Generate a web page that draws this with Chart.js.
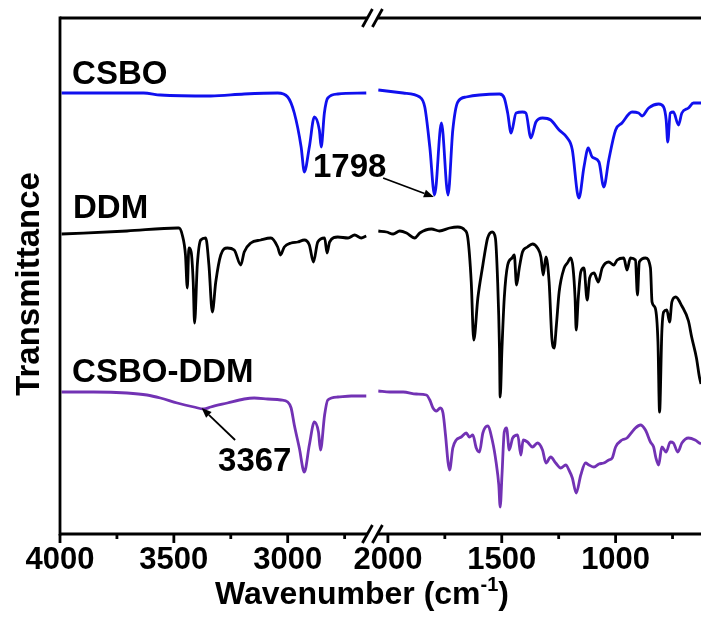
<!DOCTYPE html>
<html>
<head>
<meta charset="utf-8">
<script src="https://cdn.jsdelivr.net/npm/chart.js@4.4.0/dist/chart.umd.min.js"></script>
<style>
  html, body { margin: 0; padding: 0; background: #fff; }
  #wrap { width: 701px; height: 626px; }
</style>
</head>
<body>
<div id="wrap"><canvas id="ftir" width="701" height="626"></canvas></div>
<script>
// FTIR spectra, wavenumber (cm-1) vs. stacked transmittance (a.u.)

const csboWn = [3993, 3633, 3559, 3338, 3191, 3044, 3000, 2971, 2941, 2927, 2905, 2883, 2861, 2853, 2839, 2824, 2780, 2655,
    2042, 1933, 1860, 1838, 1816, 1795, 1765, 1736, 1715, 1693, 1656, 1598, 1510, 1489, 1474, 1459, 1437, 1409, 1394, 1372,
    1350, 1321, 1285, 1248, 1212, 1190, 1168, 1161, 1139, 1120, 1103, 1073, 1052, 1030, 1000, 972, 928, 899, 884, 855, 811,
    789, 778, 771, 760, 746, 724, 709, 680, 658, 632, 625];
const csboT = [441, 441, 439, 438, 440, 441, 437, 421, 387, 362, 387, 417, 404, 387, 421, 436, 440, 441,
    444, 441, 437, 427, 387, 339, 411, 339, 404, 432, 437, 439, 440, 436, 421, 401, 421, 422, 421, 396,
    412, 416, 414, 404, 396, 384, 341, 336, 367, 386, 377, 372, 347, 374, 404, 411, 422, 421, 418, 426, 430,
    427, 414, 392, 421, 422, 409, 421, 426, 431, 431, 431];

const ddmWn = [3993, 3706, 3485, 3478, 3463, 3449, 3441, 3434, 3424, 3415, 3409, 3397, 3382, 3360, 3346, 3331, 3316, 3294,
    3265, 3235, 3206, 3191, 3162, 3118, 3074, 3044, 3032, 3015, 2985, 2956, 2927, 2905, 2887, 2868, 2838, 2827, 2816, 2780,
    2735, 2706, 2677, 2655,
    2042, 2006, 1977, 1948, 1918, 1882, 1860, 1809, 1773, 1729, 1693, 1663, 1649, 1634, 1623, 1605, 1583, 1576, 1562, 1542,
    1528, 1518, 1510, 1507, 1499, 1489, 1474, 1455, 1445, 1435, 1423, 1409, 1387, 1365, 1343, 1328, 1318, 1306, 1292, 1280,
    1270, 1260, 1248, 1226, 1212, 1197, 1187, 1178, 1173, 1164, 1153, 1139, 1125, 1114, 1095, 1076, 1059, 1030, 1008, 993,
    964, 950, 935, 913, 904, 896, 869, 847, 840, 826, 814, 807, 797, 789, 775, 763, 753, 736, 709, 680, 666, 645, 632, 625];
const ddmT = [300, 303, 306, 306, 299, 279, 246, 286, 282, 252, 211, 269, 294, 296, 269, 222, 252, 279,
    286, 284, 269, 282, 291, 294, 296, 287, 279, 287, 291, 292, 294, 289, 272, 292, 296, 281, 292, 297,
    296, 299, 296, 298,
    303, 302, 300, 303, 301, 296, 301, 305, 303, 306, 307, 304, 296, 252, 194, 236, 269, 279, 296, 302,
    296, 252, 186, 137, 186, 236, 269, 276, 279, 249, 266, 282, 287, 290, 286, 277, 259, 277, 252, 196,
    186, 209, 242, 266, 271, 276, 266, 236, 204, 236, 262, 266, 234, 256, 261, 252, 266, 272, 269, 274,
    276, 264, 276, 274, 239, 272, 276, 266, 232, 226, 192, 122, 202, 222, 224, 212, 232, 237, 228, 213, 197, 176, 157, 150];

const blendWn = [3993, 3853, 3706, 3618, 3559, 3485, 3412, 3368, 3338, 3265, 3191, 3147, 3088, 3030, 3000, 2985, 2971,
    2949, 2927, 2905, 2883, 2865, 2856, 2838, 2824, 2780, 2721, 2655,
    2042, 1991, 1933, 1875, 1831, 1816, 1802, 1787, 1770, 1758, 1747, 1736, 1729, 1715, 1700, 1678, 1656, 1642, 1627, 1612,
    1598, 1583, 1562, 1540, 1525, 1513, 1507, 1499, 1489, 1479, 1467, 1452, 1430, 1416, 1406, 1387, 1365, 1343, 1321, 1306,
    1285, 1263, 1241, 1219, 1205, 1190, 1173, 1153, 1132, 1117, 1095, 1073, 1052, 1030, 1015, 1000, 972, 950, 928, 913,
    891, 869, 847, 833, 823, 811, 797, 778, 760, 746, 727, 709, 680, 651, 632, 625];
const blendT = [142, 142, 141, 139, 136, 131, 127, 125, 127, 131, 135, 136, 135, 134, 132, 126, 109,
    86, 62, 89, 112, 102, 84, 119, 134, 137, 138, 138,
    143, 142, 142, 140, 139, 134, 126, 123, 126, 121, 99, 72, 64, 86, 94, 97, 101, 97, 99, 86,
    82, 101, 108, 92, 72, 49, 27, 59, 102, 106, 84, 96, 99, 79, 94, 92, 87, 91, 84, 71,
    77, 71, 66, 69, 64, 56, 41, 59, 71, 69, 67, 70, 71, 74, 76, 87, 94, 96, 102, 106,
    109, 104, 92, 87, 76, 69, 87, 82, 92, 91, 82, 91, 96, 94, 91, 90];

const leftTicks = [4000, 3750, 3500, 3250, 3000, 2750];
const rightTicks = [2000, 1750, 1500, 1250, 1000, 750];
const majorTicks = [4000, 3500, 3000, 2000, 1500, 1000];

// the 4000-2650 panel is slid right to sit next to the 2050-625 panel
const SHIFT = 560;
const BREAK_AT = 2068;
const toAxis = wn => wn > 2300 ? wn - SHIFT : wn;
const fromAxis = u => u > BREAK_AT ? u + SHIFT : u;

const toPoints = (wn, t) => {
    const pts = [];
    wn.forEach((w, i) => {
        if (i > 0 && wn[i - 1] > 2300 && w <= 2300) pts.push({ x: BREAK_AT, y: null });
        pts.push({ x: toAxis(w), y: t[i] });
    });
    return pts;
};

const FONT = "'Liberation Sans', Arial, sans-serif";

/* ---------------- frame, broken axis, labels ---------------- */

const frame = {
    id: "frame",
    afterDraw(chart) {
        const { ctx, chartArea: a, scales: { x, y } } = chart;
        const bx = x.getPixelForValue(BREAK_AT);
        const seg = (x1, y1, x2, y2) => {
            ctx.beginPath(); ctx.moveTo(x1, y1); ctx.lineTo(x2, y2); ctx.stroke();
        };

        ctx.save();
        ctx.strokeStyle = "#000";
        ctx.lineWidth = 2.8;

        seg(a.left, a.top - 1.4, a.left, a.bottom + 1.4);
        [a.top, a.bottom].forEach(py => {
            seg(a.left, py, bx - 5, py);
            seg(bx + 5, py, a.right, py);
            seg(bx - 10, py + 9, bx, py - 9);
            seg(bx, py + 9, bx + 10, py - 9);
        });

        x.ticks.forEach(t => {
            const px = x.getPixelForValue(t.value);
            const len = majorTicks.includes(fromAxis(t.value)) ? 9 : 5;
            seg(px, a.bottom, px, a.bottom + len);
        });

        // text on the plot
        const px = wn => x.getPixelForValue(toAxis(wn));
        const py = v => y.getPixelForValue(v);
        ctx.fillStyle = "#000";
        ctx.textBaseline = "alphabetic";
        ctx.textAlign = "left";
        ctx.font = `bold 33px ${FONT}`;
        ctx.fillText("CSBO", px(3947), py(450));
        ctx.fillText("DDM", px(3943), py(316));
        ctx.fillText("CSBO-DDM", px(3947), py(152));
        ctx.fillText("1798", px(2889), py(357));
        ctx.fillText("3367", px(3306), py(63));

        const arrow = (x1, y1, x2, y2) => {
            ctx.lineWidth = 1.8;
            const ang = Math.atan2(y2 - y1, x2 - x1);
            const hx = x2 - 10 * Math.cos(ang), hy = y2 - 10 * Math.sin(ang);
            seg(x1, y1, hx, hy);
            ctx.beginPath();
            ctx.moveTo(x2, y2);
            ctx.lineTo(hx + 4 * Math.sin(ang), hy - 4 * Math.cos(ang));
            ctx.lineTo(hx - 4 * Math.sin(ang), hy + 4 * Math.cos(ang));
            ctx.closePath();
            ctx.fill();
        };
        arrow(px(2021), py(356), px(1798), py(337));
        arrow(px(3231), py(94), px(3378), py(126));

        // axis titles
        ctx.font = `bold 32px ${FONT}`;
        const main = "Wavenumber (cm";
        const sup = "-1";
        const tail = ")";
        const w1 = ctx.measureText(main).width;
        const w3 = ctx.measureText(tail).width;
        ctx.font = `bold 20px ${FONT}`;
        const w2 = ctx.measureText(sup).width;
        const tx = 362 - (w1 + w2 + w3) / 2;
        const ty = 604;
        ctx.font = `bold 32px ${FONT}`;
        ctx.fillText(main, tx, ty);
        ctx.font = `bold 20px ${FONT}`;
        ctx.fillText(sup, tx + w1, ty - 13);
        ctx.font = `bold 32px ${FONT}`;
        ctx.fillText(tail, tx + w1 + w2, ty);

        ctx.translate(30, 284);
        ctx.rotate(-Math.PI / 2);
        ctx.textAlign = "center";
        ctx.textBaseline = "middle";
        ctx.font = `bold 33px ${FONT}`;
        ctx.fillText("Transmittance", 0, 0);
        ctx.restore();
    }
};

const lineSet = (label, wn, t, color) => ({
    label,
    data: toPoints(wn, t),
    borderColor: color,
    borderWidth: 2.8,
    pointRadius: 0,
    cubicInterpolationMode: "monotone",
    spanGaps: false,
    borderJoinStyle: "round"
});

new Chart(document.getElementById("ftir"), {
    type: "line",
    data: {
        datasets: [
            lineSet("CSBO", csboWn, csboT, "#1010ee"),
            lineSet("DDM", ddmWn, ddmT, "#000000"),
            lineSet("CSBO-DDM", blendWn, blendT, "#7232b4")
        ]
    },
    options: {
        responsive: false,
        animation: false,
        layout: { padding: { left: 60, right: 0, top: 18, bottom: 0 } },
        plugins: { legend: { display: false }, tooltip: { enabled: false } },
        scales: {
            x: {
                type: "linear",
                reverse: true,
                min: 625,
                max: 4000 - SHIFT,
                grid: { display: false, drawTicks: false },
                border: { display: false },
                afterBuildTicks: scale => {
                    scale.ticks = [
                        ...leftTicks.map(w => ({ value: w - SHIFT })),
                        ...rightTicks.map(w => ({ value: w }))
                    ];
                },
                afterFit: scale => { scale.height = 92; },
                ticks: {
                    autoSkip: false,
                    maxRotation: 0,
                    padding: 8,
                    color: "#000",
                    font: { family: FONT, size: 31, weight: "bold" },
                    callback: value => {
                        const wn = fromAxis(value);
                        return majorTicks.includes(wn) ? String(wn) : "";
                    }
                }
            },
            y: {
                display: false,
                min: 0,
                max: 516
            }
        }
    },
    plugins: [frame]
});
</script>
</body>
</html>
